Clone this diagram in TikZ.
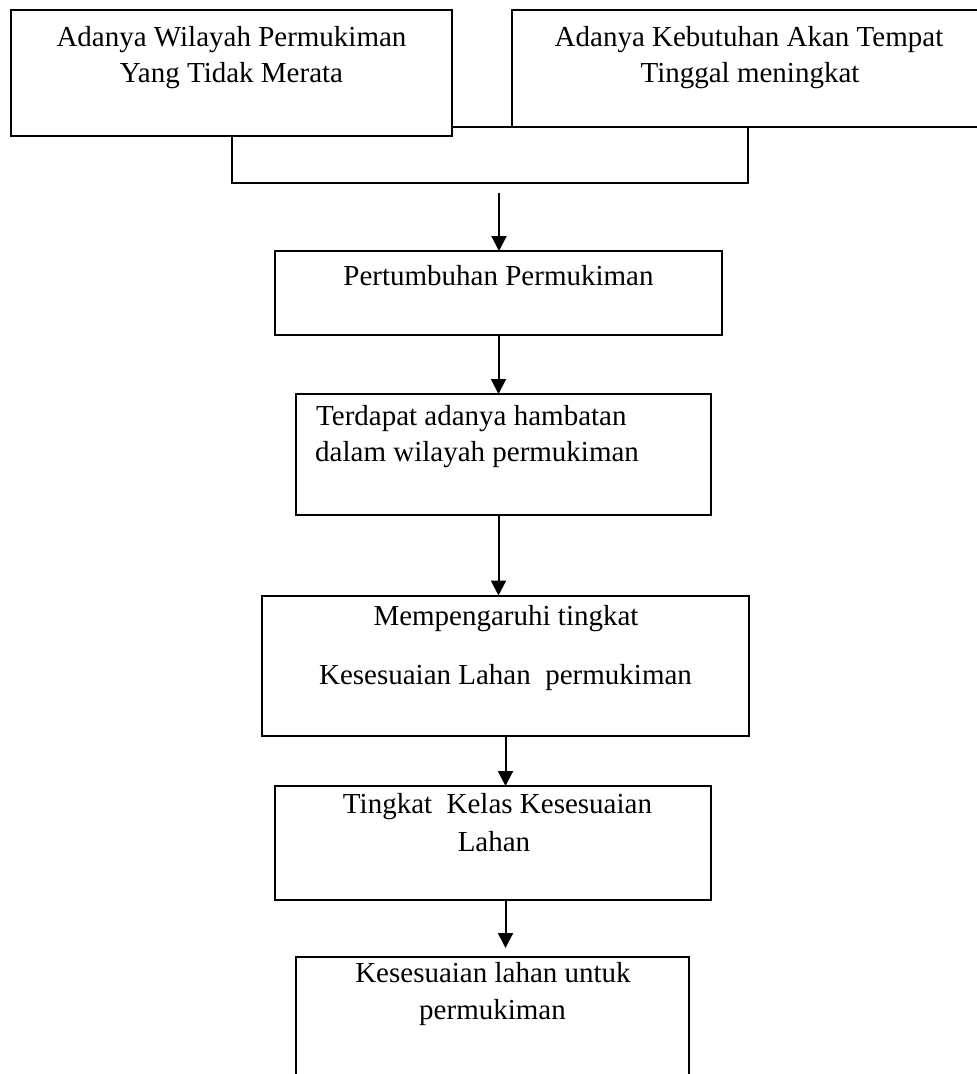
\documentclass[tikz,border=0pt]{standalone}
\usepackage{fontspec}
\setmainfont{Liberation Serif}
\usetikzlibrary{arrows.meta,calc}
\begin{document}
\begin{tikzpicture}[x=1pt,y=-1pt,
  box/.style={draw=black,line width=2pt,inner sep=0pt,outer sep=0pt,rectangle},
  topbox/.style={box,line width=2.5pt},
  conn/.style={draw=black,line width=2pt},
  arr/.style={conn,-{Triangle[length=15pt,width=15pt]}},
  txt/.style={inner sep=0pt,anchor=base,font=\fontsize{29}{35}\selectfont},
  txtl/.style={txt,anchor=base west}]
\useasboundingbox (0,0) rectangle (977,1074);
\fill[white] (0,0) rectangle (977,1074);
% boxes
\node[topbox,minimum width=441pt,minimum height=126pt] (lbox) at (231.5,73) {};
\node[topbox,minimum width=478pt,minimum height=117pt] (rbox) at (751,68.5) {};
\node[box,minimum width=447pt,minimum height=84pt] (pert) at (498.5,293) {};
\node[box,minimum width=415pt,minimum height=121pt] (terd) at (503.5,454.5) {};
\node[box,minimum width=487pt,minimum height=140pt] (memp) at (505.5,665.5) {};
\node[box,minimum width=436pt,minimum height=114pt] (ting) at (493,843) {};
\node[box,minimum width=393pt,minimum height=140pt] (kes) at (492.5,1027) {};
% texts
\node[txt] (l1) at (231.5,46) {Adanya Wilayah Permukiman};
\node[txt] (l2) at (231.5,82) {Yang Tidak Merata};
\node[txt] (r1) at (749,46) {Adanya Kebutuhan Akan Tempat};
\node[txt] (r2) at (750,82) {Tinggal meningkat};
\node[txt] (p1) at (498.5,285) {Pertumbuhan Permukiman};
\node[txtl] (d1) at (316,425) {Terdapat adanya hambatan};
\node[txtl] (d2) at (315,461) {dalam wilayah permukiman};
\node[txt] (m1) at (506,625) {Mempengaruhi tingkat};
\node[txt] (m2) at (505.5,684) {Kesesuaian Lahan\ \ permukiman};
\node[txt] (g1) at (497.5,813) {Tingkat\ \ Kelas Kesesuaian};
\node[txt] (g2) at (494,851) {Lahan};
\node[txt] (k1) at (493,982) {Kesesuaian lahan untuk};
\node[txt] (k2) at (492.5,1019) {permukiman};
% bracket joining the two top boxes
\coordinate (brk) at (748,183);
\coordinate (a1s) at (499,193);
\draw[conn] (lbox.east |- rbox.south) -- (rbox.south west);
\draw[conn] (lbox.south) |- (brk) -- (brk |- rbox.south);
% arrows
\draw[arr] (a1s) -- (a1s |- pert.north);
\draw[arr] (pert.south) -- (pert.south |- terd.north);
\draw[arr] (terd.south -| pert.south) -- (memp.north -| pert.south);
\draw[arr] (memp.south) -- (memp.south |- ting.north);
\draw[arr,shorten >=9pt] (ting.south -| memp.south) -- (kes.north -| memp.south);
\end{tikzpicture}
\end{document}
